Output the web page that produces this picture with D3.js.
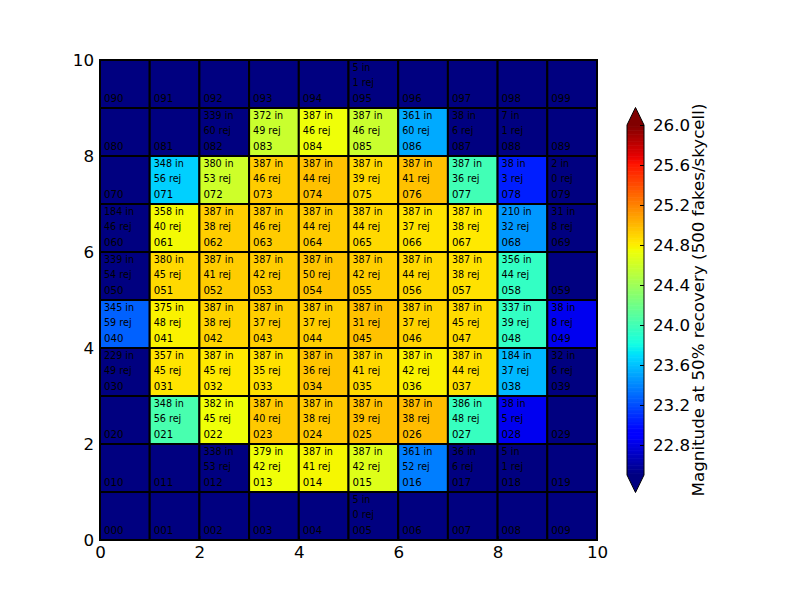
<!DOCTYPE html>
<html>
<head>
<meta charset="utf-8">
<script src="https://cdn.jsdelivr.net/npm/d3@7"></script>
<style>
  body { margin: 0; background: #fff; }
  svg text { font-family: "DejaVu Sans", sans-serif; }
</style>
</head>
<body>
<svg id="chart" width="800" height="600"></svg>
<script>
// rows run bottom (row 0) to top (row 9), columns left to right
const nIn = [
  [null, null, null, null, null, 5, null, null, null, null],
  [null, null, 338, 379, 387, 387, 361, 36, 5, null],
  [null, 348, 382, 387, 387, 387, 387, 386, 38, null],
  [229, 357, 387, 387, 387, 387, 387, 387, 184, 32],
  [345, 375, 387, 387, 387, 387, 387, 387, 337, 38],
  [339, 380, 387, 387, 387, 387, 387, 387, 356, null],
  [184, 358, 387, 387, 387, 387, 387, 387, 210, 31],
  [null, 348, 380, 387, 387, 387, 387, 387, 38, 2],
  [null, null, 339, 372, 387, 387, 361, 38, 7, null],
  [null, null, null, null, null, 5, null, null, null, null]
];

const nRej = [
  [null, null, null, null, null, 0, null, null, null, null],
  [null, null, 53, 42, 41, 42, 52, 6, 1, null],
  [null, 56, 45, 40, 38, 39, 38, 48, 5, null],
  [49, 45, 45, 35, 36, 41, 42, 44, 37, 6],
  [59, 48, 38, 37, 37, 31, 37, 45, 39, 8],
  [54, 45, 41, 42, 50, 42, 44, 38, 44, null],
  [46, 40, 38, 46, 44, 44, 37, 38, 32, 8],
  [null, 56, 53, 46, 44, 39, 41, 36, 3, 0],
  [null, null, 60, 49, 46, 46, 60, 6, 1, null],
  [null, null, null, null, null, 1, null, null, null, null]
];

// magnitude at 50% recovery; null = below the colour range
const mag = [
  [null, null, null, null, null, null, null, null, null, null],
  [null, null, null, 24.74, 24.77, 24.67, 23.37, null, null, null],
  [null, 24.03, 24.74, 24.94, 24.94, 24.97, 24.99, 23.96, 22.84, null],
  [null, 24.84, 24.82, 24.85, 24.96, 24.88, 24.79, 24.85, 23.57, null],
  [23.27, 24.79, 24.90, 24.92, 24.92, 24.97, 24.90, 24.87, 23.94, 22.84],
  [null, 24.88, 24.93, 24.93, 24.96, 24.92, 24.88, 24.85, 23.94, null],
  [null, 24.76, 24.92, 24.93, 24.93, 24.88, 24.84, 24.82, 23.46, null],
  [null, 23.65, 24.60, 24.93, 24.97, 24.88, 24.97, 24.00, 23.04, null],
  [null, null, null, 24.58, 24.74, 24.58, 23.52, null, null, null],
  [null, null, null, null, null, null, null, null, null, null]
];

const axisTicks = [0, 2, 4, 6, 8, 10];
const cbTicks = [22.8, 23.2, 23.6, 24.0, 24.4, 24.8, 25.2, 25.6, 26.0];
const vmin = 22.5, vmax = 26.0;
const cbLabel = 'Magnitude at 50% recovery (500 fakes/skycell)';

// matplotlib jet
const rS = d3.scaleLinear().domain([0, 0.35, 0.66, 0.89, 1]).range([0, 0, 1, 1, 0.5]).clamp(true);
const gS = d3.scaleLinear().domain([0, 0.125, 0.375, 0.64, 0.91, 1]).range([0, 0, 1, 1, 0, 0]).clamp(true);
const bS = d3.scaleLinear().domain([0, 0.11, 0.34, 0.65, 1]).range([0.5, 1, 1, 0, 0]).clamp(true);
const jet = t => d3.rgb(rS(t) * 255, gS(t) * 255, bS(t) * 255).toString();
const norm = d3.scaleLinear().domain([vmin, vmax]).range([0, 1]).clamp(true);
const colorFor = v => v == null ? jet(0) : jet(norm(v));

const svg = d3.select('#chart');
const x = d3.scaleLinear().domain([0, 10]).range([100, 597]);
const y = d3.scaleLinear().domain([0, 10]).range([540, 60]);

const cells = [];
for (let r = 0; r < 10; r++) {
  for (let c = 0; c < 10; c++) {
    cells.push({ r, c, id: String(r * 10 + c).padStart(3, '0'), inn: nIn[r][c], rej: nRej[r][c], m: mag[r][c] });
  }
}

const g = svg.append('g');
g.selectAll('rect.cell')
  .data(cells)
  .join('rect')
  .attr('class', 'cell')
  .attr('x', d => x(d.c))
  .attr('y', d => y(d.r + 1))
  .attr('width', x(1) - x(0))
  .attr('height', y(0) - y(1))
  .attr('fill', d => colorFor(d.m))
  .attr('stroke', 'black')
  .attr('stroke-width', 2);

const labels = g.selectAll('g.lab')
  .data(cells)
  .join('g')
  .attr('class', 'lab');

labels.filter(d => d.inn != null).append('text')
  .attr('x', d => x(d.c) + 4)
  .attr('y', d => y(d.r + 1) + 11)
  .attr('font-size', 9.6)
  .text(d => `${d.inn} in`);

labels.filter(d => d.rej != null).append('text')
  .attr('x', d => x(d.c) + 4)
  .attr('y', d => y(d.r + 1) + 25.5)
  .attr('font-size', 9.6)
  .text(d => `${d.rej} rej`);

labels.append('text')
  .attr('x', d => x(d.c) + 4)
  .attr('y', d => y(d.r) - 6)
  .attr('font-size', 10.2)
  .text(d => d.id);

// frame
svg.append('rect')
  .attr('x', x(0)).attr('y', y(10))
  .attr('width', x(10) - x(0)).attr('height', y(0) - y(10))
  .attr('fill', 'none').attr('stroke', 'black').attr('stroke-width', 1);

const xAxis = svg.append('g')
  .attr('transform', `translate(0,${y(0)})`)
  .call(d3.axisBottom(x).tickValues(axisTicks).tickSize(-4).tickPadding(6).tickFormat(d3.format('d')));
const yAxis = svg.append('g')
  .attr('transform', `translate(${x(0)},0)`)
  .call(d3.axisLeft(y).tickValues(axisTicks).tickSize(-4).tickPadding(6).tickFormat(d3.format('d')));
[xAxis, yAxis].forEach(a => {
  a.select('.domain').remove();
  a.selectAll('text').attr('font-size', 16.7).attr('fill', 'black').attr('font-family', '"DejaVu Sans", sans-serif');
});

// colorbar
const cbX = 627, cbW = 17;
const cb = d3.scaleLinear().domain([vmin, vmax]).range([475, 125]);
const ext = 17.5;
const steps = d3.range(0, 256).map(i => vmin + (vmax - vmin) * i / 256);
const cbg = svg.append('g');
cbg.selectAll('rect')
  .data(steps)
  .join('rect')
  .attr('x', cbX)
  .attr('y', d => cb(d + (vmax - vmin) / 256) - 0.3)
  .attr('width', cbW)
  .attr('height', (cb(vmin) - cb(vmax)) / 256 + 0.6)
  .attr('fill', d => jet(norm(d + (vmax - vmin) / 512)));

cbg.append('path')
  .attr('d', `M${cbX},${cb(vmax)}L${cbX + cbW / 2},${cb(vmax) - ext}L${cbX + cbW},${cb(vmax)}Z`)
  .attr('fill', jet(1));
cbg.append('path')
  .attr('d', `M${cbX},${cb(vmin)}L${cbX + cbW / 2},${cb(vmin) + ext}L${cbX + cbW},${cb(vmin)}Z`)
  .attr('fill', jet(0));
cbg.append('path')
  .attr('d', `M${cbX},${cb(vmax)}L${cbX + cbW / 2},${cb(vmax) - ext}L${cbX + cbW},${cb(vmax)}L${cbX + cbW},${cb(vmin)}L${cbX + cbW / 2},${cb(vmin) + ext}L${cbX},${cb(vmin)}Z`)
  .attr('fill', 'none').attr('stroke', 'black').attr('stroke-width', 1);

const cbAxis = svg.append('g')
  .attr('transform', `translate(${cbX + cbW},0)`)
  .call(d3.axisRight(cb).tickValues(cbTicks).tickSize(-4).tickPadding(9).tickFormat(d3.format('.1f')));
cbAxis.select('.domain').remove();
cbAxis.selectAll('text').attr('font-size', 16.7).attr('fill', 'black').attr('font-family', '"DejaVu Sans", sans-serif');

svg.append('text')
  .attr('transform', `translate(698,${(cb(vmin) + cb(vmax)) / 2}) rotate(-90)`)
  .attr('text-anchor', 'middle')
  .attr('dominant-baseline', 'central')
  .attr('font-size', 16.7)
  .text(cbLabel);
</script>
</body>
</html>
